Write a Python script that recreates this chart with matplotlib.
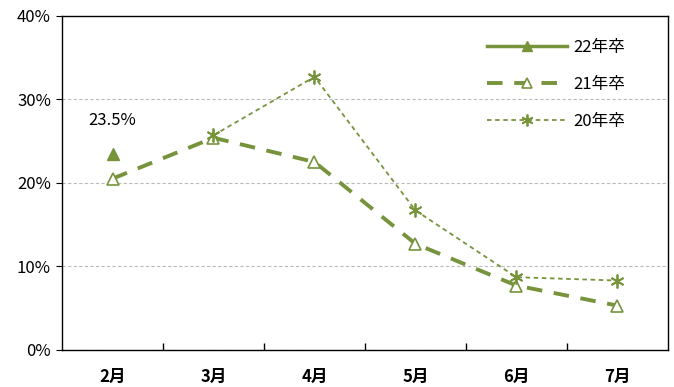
import matplotlib
matplotlib.use('Agg')
import matplotlib.pyplot as plt
from matplotlib.ticker import FixedLocator, FuncFormatter

plt.rcParams['font.family'] = ['Noto Sans CJK JP', 'DejaVu Sans']

months = ['2月', '3月', '4月', '5月', '6月', '7月']
y22 = [23.5]
y21 = [20.5, 25.4, 22.5, 12.7, 7.7, 5.3]
y20 = [None, 25.7, 32.7, 16.7, 8.7, 8.3]
green = '#77933C'

fig = plt.figure(figsize=(6.74, 3.87), dpi=100)
ax = fig.add_axes([0.092, 0.096, 0.899, 0.863])

x = list(range(len(months)))
ax.plot(x[:1], y22, color=green, lw=2.5, marker='^', ms=8,
        label='22年卒', zorder=4)
ax.plot(x, y21, color=green, lw=2.8, ls=(0, (4, 3)), marker='^', ms=9,
        markerfacecolor='white', markeredgewidth=1.2, label='21年卒', zorder=3)
x20 = [i for i, v in zip(x, y20) if v is not None]
v20 = [v for v in y20 if v is not None]
ax.plot(x20, v20, color=green, lw=1.3, ls=(0, (2.5, 2)), marker=(6, 2, 0), ms=10,
        markeredgewidth=1.3, label='20年卒', zorder=3)

ax.text(0, 26.5, '23.5%', ha='center', va='bottom', fontsize=12)

ax.set_xlim(-0.5, 5.5)
ax.set_ylim(0, 40)
ax.set_xticks(x)
ax.set_xticklabels(months, fontsize=12, fontweight='bold')
ax.tick_params(axis='x', which='major', length=0, pad=13)
ax.xaxis.set_minor_locator(FixedLocator([0.5, 1.5, 2.5, 3.5, 4.5]))
ax.tick_params(axis='x', which='minor', length=5, direction='in', width=1)

ax.set_yticks([0, 10, 20, 30, 40])
ax.yaxis.set_major_formatter(FuncFormatter(lambda v, p: f'{int(v)}%'))
ax.tick_params(axis='y', length=4, direction='out', labelsize=12, pad=4)
ax.grid(axis='y', color='#bbbbbb', ls=(0, (3, 2)), lw=0.8)
for s in ax.spines.values():
    s.set_color('black')
    s.set_linewidth(1)

leg = ax.legend(loc='upper right', bbox_to_anchor=(0.955, 0.975), frameon=False,
                handlelength=4.8, fontsize=12, labelspacing=1.2, handletextpad=0.4,
                markerscale=0.85)

fig.savefig('out.png', dpi=100)
